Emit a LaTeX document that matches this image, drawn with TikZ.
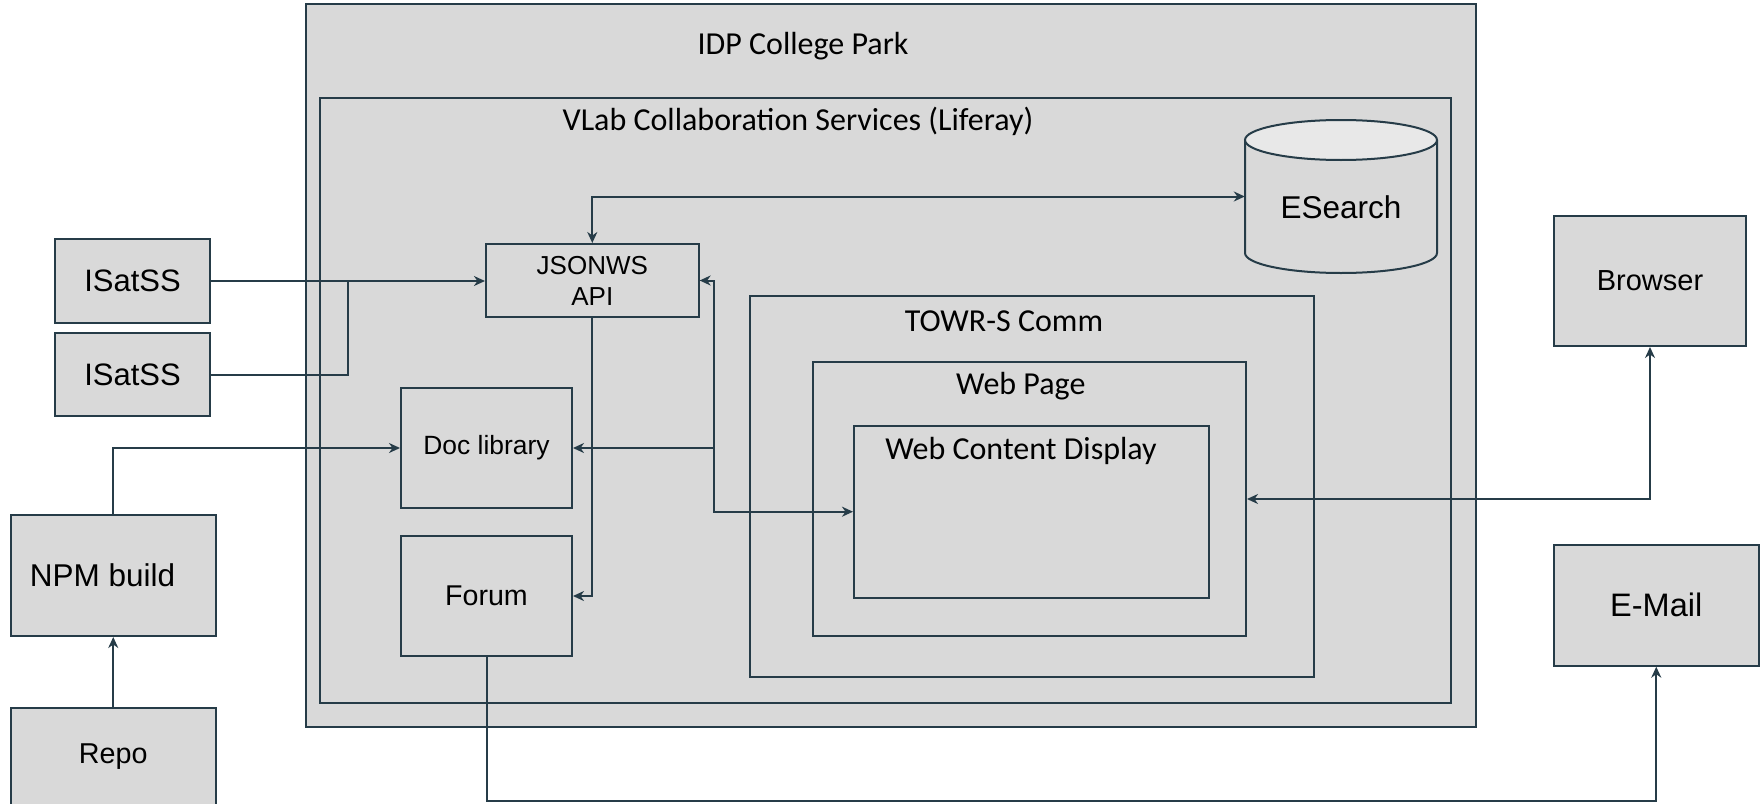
\documentclass[tikz,border=0pt]{standalone}
\usepackage{fontspec}
\setmainfont{Liberation Sans}
\newfontfamily\calfont{Carlito}
\usetikzlibrary{arrows.meta}
\definecolor{strk}{HTML}{263C48}
\definecolor{boxfill}{HTML}{D9D9D9}
\definecolor{topfill}{HTML}{E8E8E8}
\tikzset{
  box/.style={draw=strk, fill=boxfill, line width=2pt, inner sep=0pt, rectangle},
  lbl/.style={text=black, inner sep=0pt, align=center},
  ttl/.style={font=\calfont\fontsize{32}{38}\selectfont, text=black, anchor=base, inner sep=0pt},
  conn/.style={draw=strk, line width=2pt},
}
\begin{document}
\begin{tikzpicture}[x=1pt,y=-1pt, >={Stealth[length=11pt,width=10pt,inset=3.5pt]}]
\useasboundingbox (0,0) rectangle (1761,803);
\clip (0,0) rectangle (1761,803);
% containers
\node[box, minimum width=1170pt, minimum height=723pt] (idp) at (891,365.5) {};
\node[ttl] (idpt) at (803,54) {IDP College Park};
\node[box, minimum width=1131.5pt, minimum height=605pt] (vlab) at (885.25,400) {};
\node[ttl] (vlabt) at (798,130) {VLab Collaboration Services (Liferay)};
\node[box, minimum width=564pt, minimum height=381pt] (towr) at (1032,486.5) {};
\node[ttl] (towrt) at (1004,331.7) {TOWR-S Comm};
\node[box, minimum width=433pt, minimum height=274pt] (webpage) at (1029.5,499) {};
\node[ttl] (webpaget) at (1020.8,394) {Web Page};
\node[box, minimum width=355pt, minimum height=172pt] (wcd) at (1031.5,511.7) {};
\node[ttl] (wcdt) at (1021,459) {Web Content Display};
% ESearch cylinder
\node[inner sep=0pt, minimum width=192pt, minimum height=113pt] (esearch) at (1341,196.5) {};
\path[fill=boxfill] (1245,140) -- (1245,253) arc[start angle=180, end angle=0, x radius=96, y radius=20] -- (1437,140) -- cycle;
\draw[conn] (1245,140) -- (1245,253) arc[start angle=180, end angle=0, x radius=96, y radius=20] -- (1437,140);
\draw[conn, fill=topfill] (1341,140) ellipse[x radius=96, y radius=20];
\node[lbl, font=\fontsize{31.5}{37}\selectfont] (esearcht) at (1341,207) {ESearch};
% boxes
\node[box, lbl, minimum width=212.7pt, minimum height=73pt, font=\fontsize{26}{31}\selectfont] (jsonws) at (592.3,280.5) {JSONWS\\API};
\node[box, lbl, minimum width=155pt, minimum height=84pt, font=\fontsize{31}{37}\selectfont] (isat1) at (132.5,281) {ISatSS};
\node[box, lbl, minimum width=155pt, minimum height=83pt, font=\fontsize{31}{37}\selectfont] (isat2) at (132.5,374.5) {ISatSS};
\node[box, lbl, minimum width=171pt, minimum height=120pt, font=\fontsize{26.4}{31}\selectfont] (doclib) at (486.5,448) {Doc library};
\node[box, lbl, minimum width=171pt, minimum height=120pt, font=\fontsize{28.6}{34}\selectfont] (forum) at (486.5,596) {Forum};
\node[box, minimum width=204.5pt, minimum height=121pt] (npm) at (113.25,575.5) {};
\node[lbl, font=\fontsize{31.5}{37}\selectfont] (npmt) at (102.6,575.7) {NPM build};
\node[box, minimum width=204.5pt, minimum height=121pt, anchor=north] (repo) at (113.25,706.7) {};
\node[lbl, font=\fontsize{28.7}{34}\selectfont] (repot) at (113.25,756.7) {Repo};
\node[box, lbl, minimum width=192pt, minimum height=130pt, font=\fontsize{29}{35}\selectfont] (browser) at (1650,281) {Browser};
\node[box, lbl, minimum width=204.5pt, minimum height=121pt, font=\fontsize{32.5}{38}\selectfont] (email) at (1656.25,605.2) {E-Mail};
% connector helper coordinates
\coordinate (j1) at (347.5,281);
\coordinate (bus) at (714,400);
\coordinate (bot) at (0,801);
% connectors
\draw[conn, ->] (isat1.east) -- (isat1.east -| jsonws.west);
\draw[conn] (isat2.east) -| (j1);
\draw[conn, <->] (jsonws.north) |- (esearch.west);
\draw[conn, ->] (jsonws.south) |- (forum.east);
\draw[conn, ->] (npm.north) |- (doclib.west);
\draw[conn, ->] (repo.north) -- (npm.south);
\draw[conn, <->] (jsonws.east) -| (bus) |- (wcd.west);
\draw[conn, ->] (bus |- doclib.east) -- (doclib.east);
\draw[conn, <->] (webpage.east) -| (browser.south);
\draw[conn, ->] (forum.south) -- (forum.south |- bot) -| (email.south);
\end{tikzpicture}
\end{document}
